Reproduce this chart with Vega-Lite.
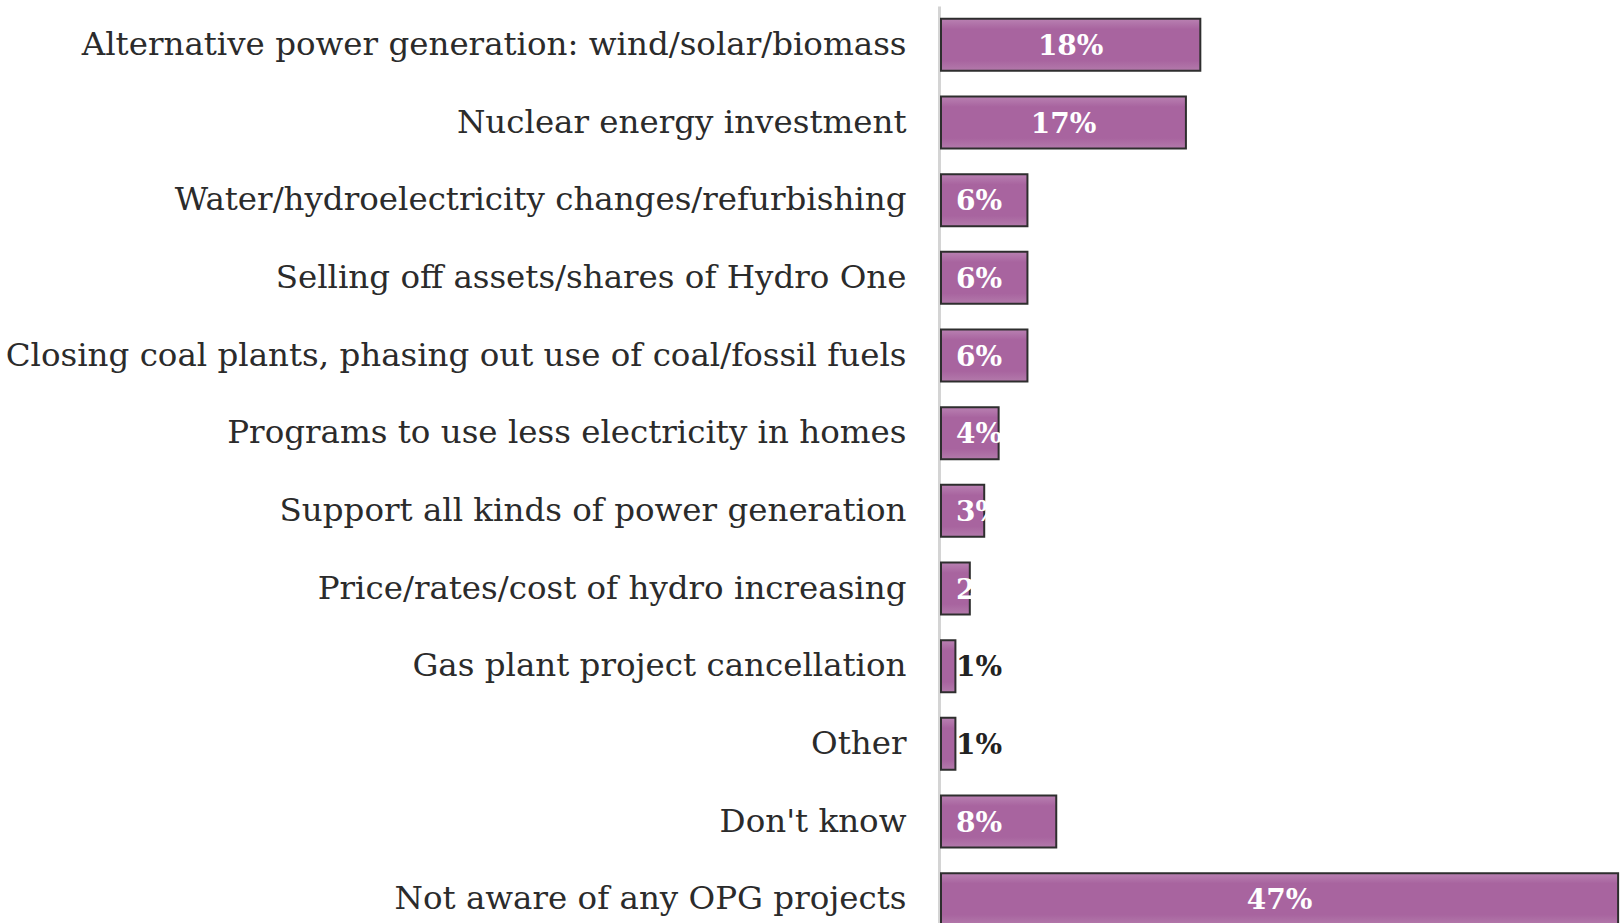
{
  "$schema": "https://vega.github.io/schema/vega-lite/v6.json",
  "width": 680,
  "height": 932,
  "autosize": {"type": "none"},
  "padding": {"left": 941, "top": 6, "right": 0, "bottom": 0},
  "background": "white",
  "config": {"view": {"stroke": null}, "font": "DejaVu Serif"},
  "data": {"values": [
    {"item": "Alternative power generation: wind/solar/biomass", "pct": 18},
    {"item": "Nuclear energy investment", "pct": 17},
    {"item": "Water/hydroelectricity changes/refurbishing", "pct": 6},
    {"item": "Selling off assets/shares of Hydro One", "pct": 6},
    {"item": "Closing coal plants, phasing out use of coal/fossil fuels", "pct": 6},
    {"item": "Programs to use less electricity in homes", "pct": 4},
    {"item": "Support all kinds of power generation", "pct": 3},
    {"item": "Price/rates/cost of hydro increasing", "pct": 2},
    {"item": "Gas plant project cancellation", "pct": 1},
    {"item": "Other", "pct": 1},
    {"item": "Don't know", "pct": 8},
    {"item": "Not aware of any OPG projects", "pct": 47}
  ]},
  "encoding": {
    "y": {"field": "item", "type": "nominal", "sort": null,
      "scale": {"paddingInner": 0.33, "paddingOuter": 0.165},
      "axis": {"title": null, "ticks": false, "labelFontSize": 32.5, "labelColor": "#2b2b2b", "labelPadding": 33, "labelFont": "DejaVu Serif", "labelLimit": 1000, "domainColor": "#d4d4d4", "domainWidth": 3, "offset": 2}
    }
  },
  "layer": [
    {
      "mark": {"type": "bar", "stroke": "#2e2e2e", "strokeWidth": 2,
        "color": {"gradient": "linear", "x1": 0, "y1": 0, "x2": 0, "y2": 1,
          "stops": [{"offset": 0, "color": "#b981b2"}, {"offset": 0.2, "color": "#a8649f"}, {"offset": 0.8, "color": "#a8649f"}, {"offset": 1, "color": "#b37aab"}]}},
      "encoding": {
        "x": {"field": "pct", "type": "quantitative", "scale": {"domain": [0, 47.2], "nice": false}, "axis": null}
      }
    },
    {
      "transform": [{"filter": "datum.pct >= 10"}, {"calculate": "datum.pct + '%'", "as": "lbl"}, {"calculate": "datum.pct / 2", "as": "mid"}],
      "mark": {"type": "text", "font": "DejaVu Serif", "fontWeight": "bold", "fontSize": 28, "color": "white", "align": "center", "baseline": "middle", "dy": 2},
      "encoding": {
        "x": {"field": "mid", "type": "quantitative"},
        "text": {"field": "lbl"}
      }
    },
    {
      "transform": [{"filter": "datum.pct < 10"}, {"calculate": "datum.pct + '%'", "as": "lbl"}, {"calculate": "0", "as": "zero"}],
      "mark": {"type": "text", "font": "DejaVu Serif", "fontWeight": "bold", "fontSize": 28, "align": "left", "baseline": "middle", "dx": 15, "dy": 2},
      "encoding": {
        "x": {"field": "zero", "type": "quantitative"},
        "text": {"field": "lbl"},
        "color": {"condition": {"test": "datum.pct <= 1", "value": "#222222"}, "value": "white"}
      }
    }
  ]
}
